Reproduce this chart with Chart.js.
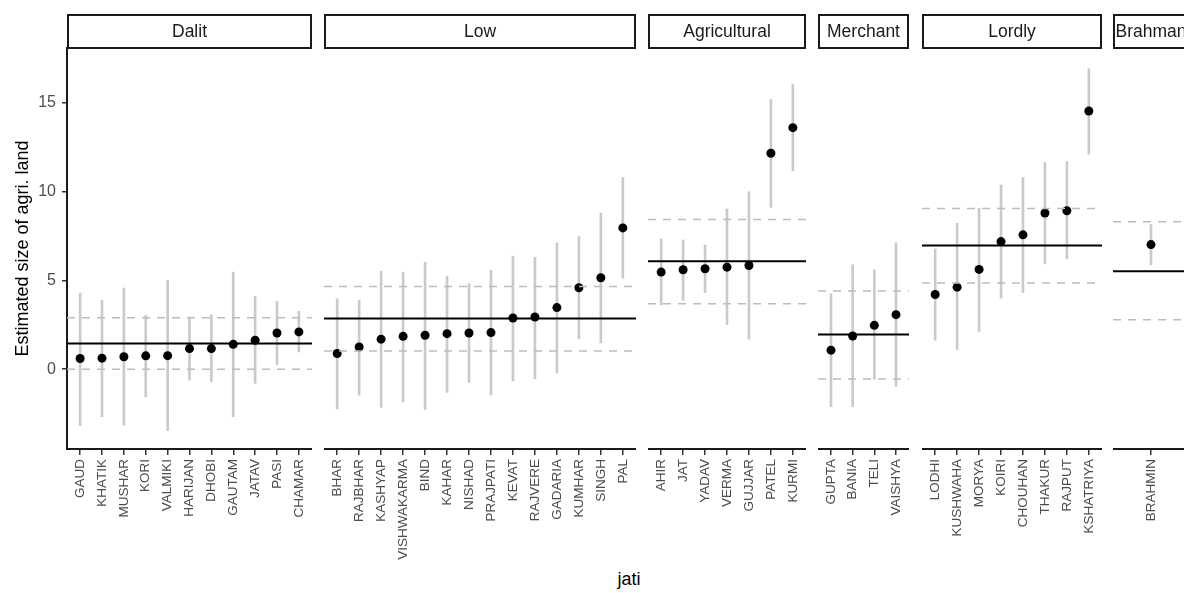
<!DOCTYPE html>
<html><head><meta charset="utf-8">
<script src="https://cdn.jsdelivr.net/npm/chart.js@4.4.1/dist/chart.umd.min.js"></script>
<style>
html,body{margin:0;padding:0;background:#fff;width:1184px;height:593px;overflow:hidden;position:relative;font-family:"Liberation Sans",Arial,sans-serif}
canvas{position:absolute;top:0}
#xtitle{position:absolute;left:529px;width:200px;top:569px;text-align:center;font-size:18px;line-height:21px;color:#000}
</style></head><body>
<div id="xtitle">jati</div>
<script>
// ---------- data ----------
const groupNames = ["Dalit","Low","Agricultural","Merchant","Lordly","Brahman"];

const dalitCats = ["GAUD","KHATIK","MUSHAR","KORI","VALMIKI","HARIJAN","DHOBI","GAUTAM","JATAV","PASI","CHAMAR"];
const dalitEst  = [0.6,0.62,0.7,0.75,0.76,1.16,1.16,1.4,1.63,2.04,2.1];
const dalitLo   = [-3.18,-2.68,-3.15,-1.56,-3.47,-0.62,-0.71,-2.68,-0.8,0.26,0.97];
const dalitHi   = [4.29,3.88,4.57,3.03,5.0,2.94,3.07,5.47,4.1,3.82,3.26];

const lowCats = ["BHAR","RAJBHAR","KASHYAP","VISHWAKARMA","BIND","KAHAR","NISHAD","PRAJPATI","KEVAT","RAJVERE","GADARIA","KUMHAR","SINGH","PAL"];
const lowEst  = [0.88,1.25,1.69,1.85,1.91,2.0,2.04,2.06,2.88,2.94,3.47,4.59,5.15,7.96];
const lowLo   = [-2.25,-1.46,-2.15,-1.84,-2.27,-1.31,-0.75,-1.46,-0.67,-0.54,-0.21,1.72,1.48,5.13];
const lowHi   = [3.97,3.88,5.52,5.47,6.03,5.24,4.81,5.56,6.37,6.31,7.12,7.47,8.8,10.8];

const agriCats = ["AHIR","JAT","YADAV","VERMA","GUJJAR","PATEL","KURMI"];
const agriEst  = [5.47,5.6,5.66,5.75,5.84,12.17,13.61];
const agriLo   = [3.63,3.88,4.31,2.51,1.69,9.12,11.18];
const agriHi   = [7.34,7.28,7.0,9.03,10.0,15.2,16.05];

const merchCats = ["GUPTA","BANIA","TELI","VAISHYA"];
const merchEst  = [1.07,1.87,2.47,3.07];
const merchLo   = [-2.12,-2.12,-0.56,-0.99];
const merchHi   = [4.25,5.88,5.6,7.12];

const lordCats = ["LODHI","KUSHWAHA","MORYA","KOIRI","CHOUHAN","THAKUR","RAJPUT","KSHATRIYA"];
const lordEst  = [4.21,4.62,5.62,7.19,7.57,8.8,8.93,14.55];
const lordLo   = [1.63,1.1,2.13,4.0,4.31,5.94,6.22,12.12];
const lordHi   = [6.78,8.22,9.06,10.38,10.8,11.65,11.7,16.93];

const brahCats = ["BRAHMIN"];
const brahEst  = [7.02];
const brahLo   = [5.88];
const brahHi   = [8.15];

// group mean and band (dashed) per panel, in the order of groupNames
const groupMean   = [1.44, 2.85, 6.08, 1.95, 6.97, 5.52];
const groupBandLo = [0.0, 1.03, 3.69, -0.56, 4.85, 2.79];
const groupBandHi = [2.9, 4.66, 8.43, 4.4, 9.06, 8.31];

const yTicks = [0,5,10,15];
const yTitle = "Estimated size of agri. land";

// ---------- layout ----------
const PANEL_EDGES = [[67,312],[324,636],[648,806],[818,909],[922,1102],[1113,1189]];
const PLOT_TOP = 48, PLOT_BOTTOM = 449, STRIP_TOP = 15, H = 593;
const YMIN = -4.5, YMAX = 18.1;
const FAMILY = '"Liberation Sans", Arial, sans-serif';
Chart.defaults.font.family = FAMILY;

const stripPlugin = {
  id: 'strip',
  afterDraw(chart, args, opts) {
    const ctx = chart.ctx;
    const {left, right} = chart.chartArea;
    ctx.save();
    ctx.fillStyle = '#ffffff';
    ctx.fillRect(left, STRIP_TOP - 1, right - left, PLOT_TOP - STRIP_TOP + 1);
    ctx.strokeStyle = '#1a1a1a';
    ctx.lineWidth = 2;
    ctx.strokeRect(left + 1, STRIP_TOP, right - left - 2, PLOT_TOP - STRIP_TOP);
    ctx.fillStyle = '#1a1a1a';
    ctx.font = '17.5px ' + FAMILY;
    ctx.textAlign = 'center';
    ctx.textBaseline = 'middle';
    ctx.fillText(opts.label, (left + right) / 2, (STRIP_TOP + PLOT_TOP) / 2 + 1);
    ctx.restore();
  }
};

function makePanel(idx, cats, est, lo, hi) {
  const [L, R] = PANEL_EDGES[idx];
  const cl = idx === 0 ? 0 : L;
  const canvas = document.createElement('canvas');
  canvas.width = R - cl; canvas.height = H;
  canvas.style.left = cl + 'px';
  canvas.style.width = (R - cl) + 'px';
  canvas.style.height = H + 'px';
  document.body.appendChild(canvas);
  const n = cats.length;
  const xmin = -0.6, xmax = n - 1 + 0.6;
  const idxs = cats.map((c, i) => i);
  const mean = groupMean[idx], bLo = groupBandLo[idx], bHi = groupBandHi[idx];
  const dash = {type: 'line', borderColor: '#bdbdbd', borderWidth: 1.5, borderDash: [8, 7], pointRadius: 0, order: 0};
  new Chart(canvas, {
    type: 'scatter',
    data: {datasets: [
      {type: 'bar', data: idxs.map(i => ({x: i, y: [lo[i], hi[i]]})), backgroundColor: '#cacaca', borderWidth: 0, barThickness: 2, grouped: false, order: 3},
      {type: 'line', data: idxs.map(i => ({x: i, y: est[i]})), showLine: false, pointRadius: 4.5, pointBackgroundColor: '#000', pointBorderWidth: 0, pointBorderColor: '#000', order: 2},
      {type: 'line', data: [{x: xmin, y: mean}, {x: xmax, y: mean}], borderColor: '#000', borderWidth: 2, pointRadius: 0, order: 1},
      Object.assign({data: [{x: xmin, y: bHi}, {x: xmax, y: bHi}]}, dash),
      Object.assign({data: [{x: xmin, y: bLo}, {x: xmax, y: bLo}]}, dash)
    ]},
    options: {
      responsive: false, animation: false, devicePixelRatio: 1,
      layout: {autoPadding: false, padding: {top: PLOT_TOP, left: 0, right: 0, bottom: 0}},
      plugins: {legend: {display: false}, tooltip: {enabled: false}, strip: {label: groupNames[idx]}},
      scales: {
        x: {
          type: 'linear', min: xmin, max: xmax, offset: false,
          afterBuildTicks: s => { s.ticks = idxs.map(i => ({value: i})); },
          afterFit: s => { s.height = H - PLOT_BOTTOM; s.paddingLeft = 0; s.paddingRight = 0; },
          ticks: {autoSkip: false, minRotation: 90, maxRotation: 90, callback: v => cats[v], color: '#4d4d4d', font: {size: 13.5}, padding: 4},
          grid: {drawOnChartArea: false, drawTicks: true, tickLength: 6, color: '#333333', lineWidth: 1.5, offset: false},
          border: {display: true, color: '#1a1a1a', width: 2}
        },
        y: {
          type: 'linear', display: idx === 0, min: YMIN, max: YMAX,
          afterBuildTicks: s => { s.ticks = yTicks.map(v => ({value: v})); },
          afterFit: s => { if (idx === 0) { s.width = PANEL_EDGES[0][0]; } s.paddingTop = 0; s.paddingBottom = 0; },
          ticks: {color: '#4d4d4d', font: {size: 16}, padding: 6},
          grid: {drawOnChartArea: false, drawTicks: true, tickLength: 5, color: '#333333', lineWidth: 1.5},
          border: {display: true, color: '#1a1a1a', width: 2},
          title: {display: true, text: yTitle, color: '#000', font: {size: 18}, padding: {top: 12, bottom: 0}}
        }
      }
    },
    plugins: [stripPlugin]
  });
}

makePanel(0, dalitCats, dalitEst, dalitLo, dalitHi);
makePanel(1, lowCats, lowEst, lowLo, lowHi);
makePanel(2, agriCats, agriEst, agriLo, agriHi);
makePanel(3, merchCats, merchEst, merchLo, merchHi);
makePanel(4, lordCats, lordEst, lordLo, lordHi);
makePanel(5, brahCats, brahEst, brahLo, brahHi);
</script>
</body></html>
